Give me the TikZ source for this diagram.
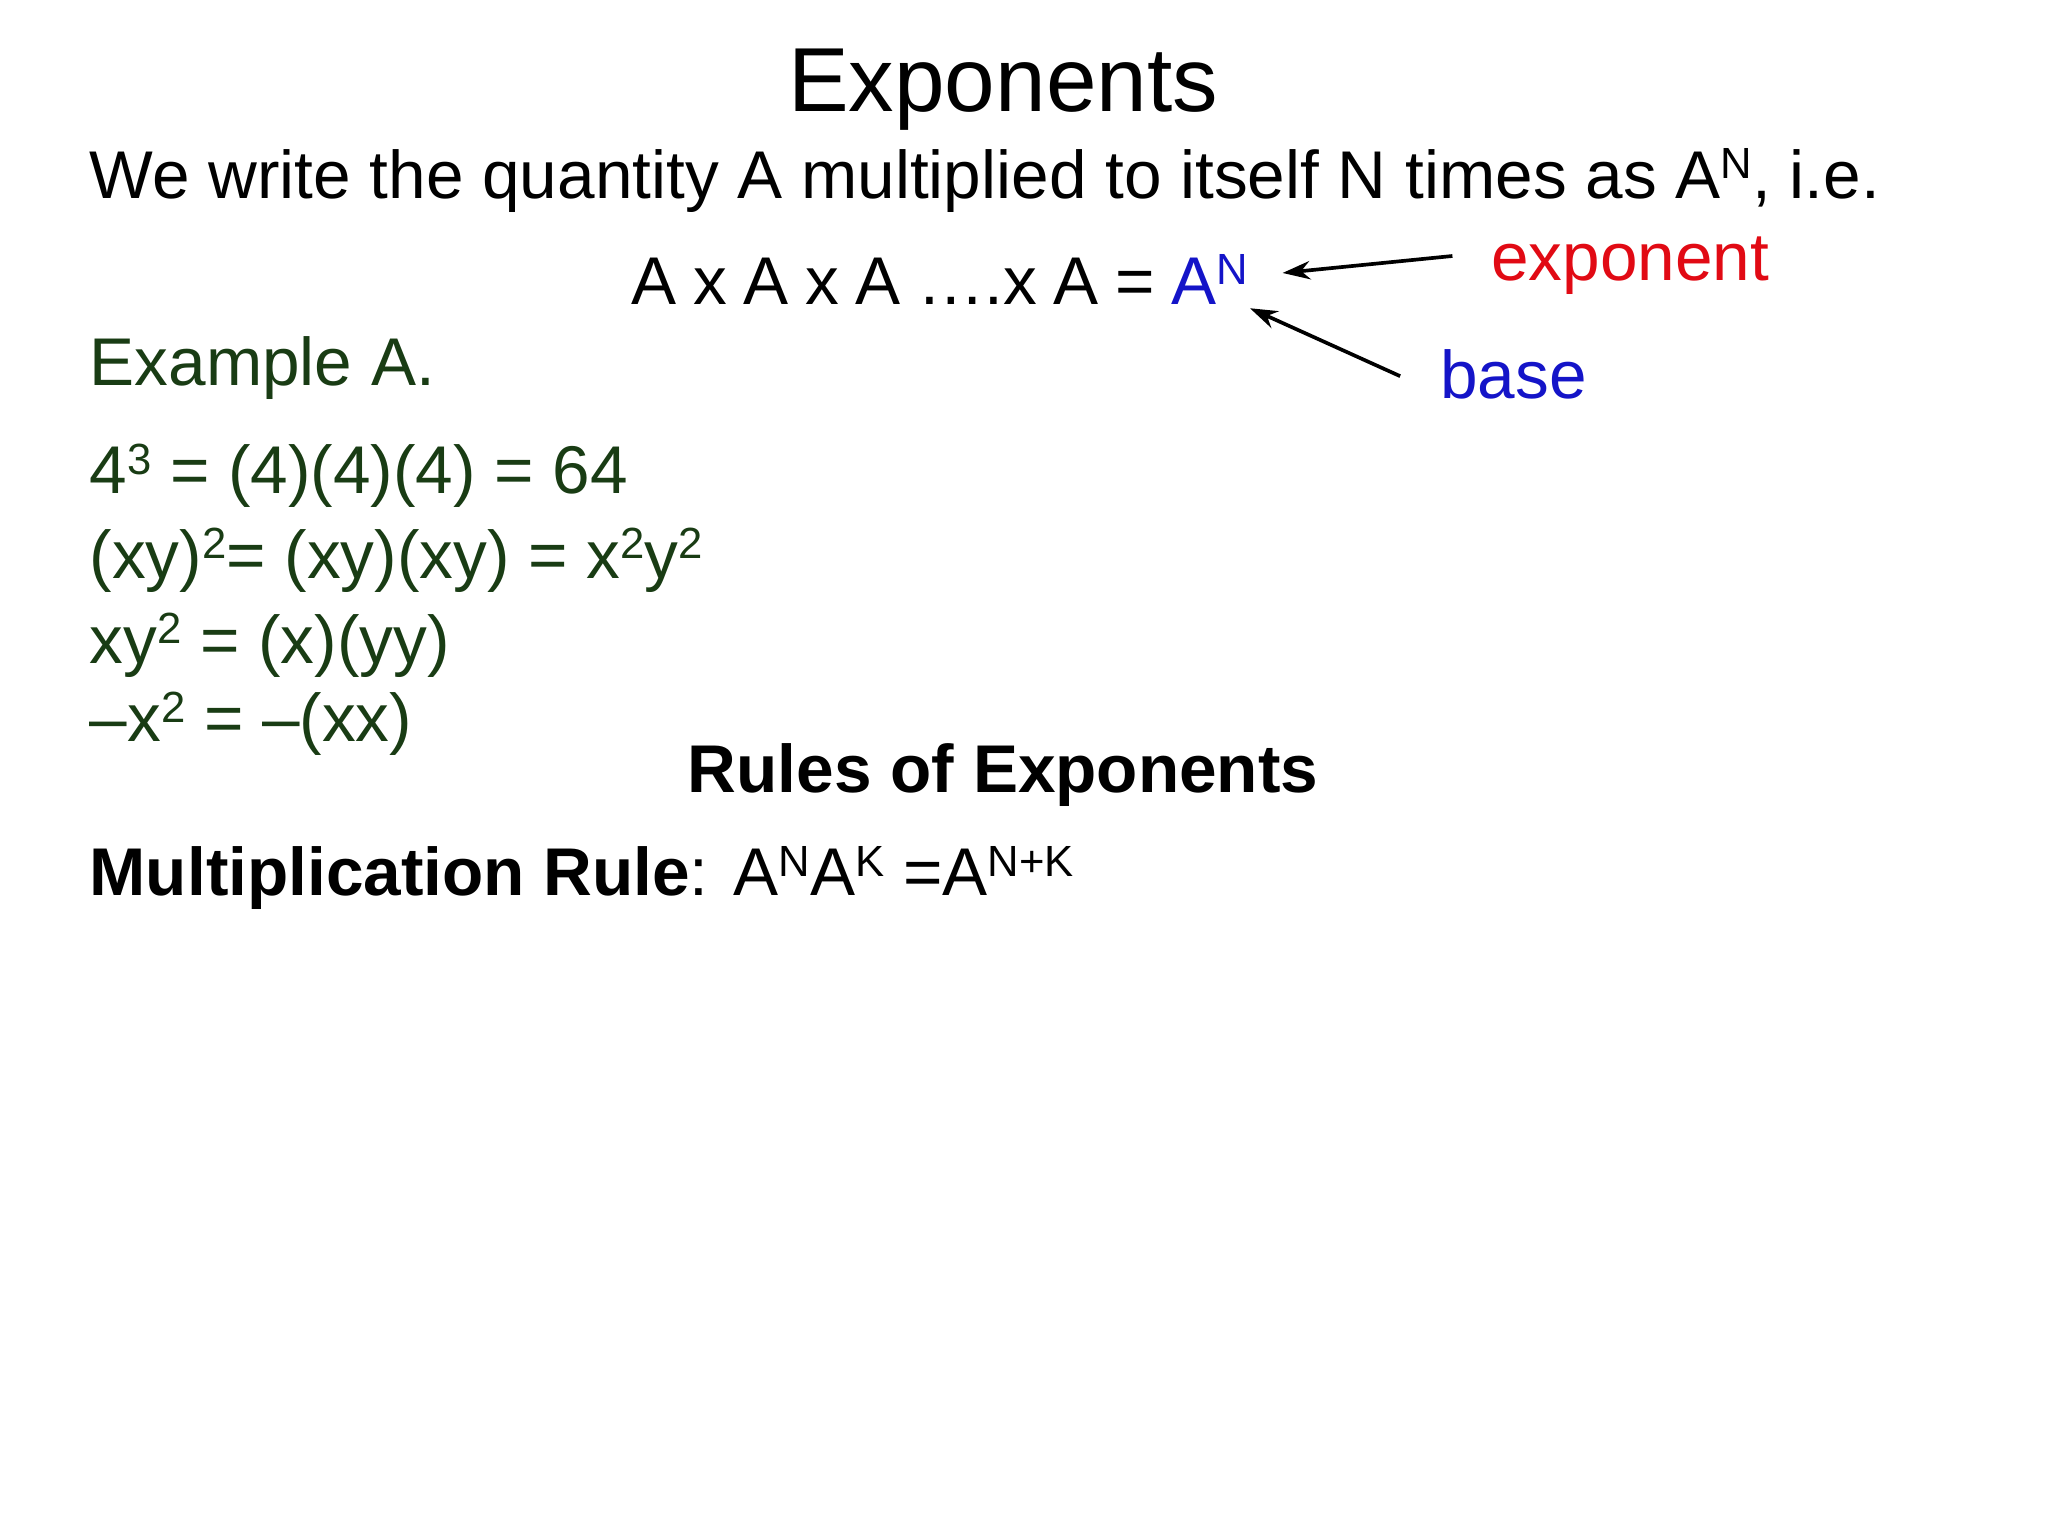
\documentclass[tikz,border=0pt]{standalone}
\usepackage{fontspec}
\setmainfont{Liberation Sans}
\usetikzlibrary{arrows.meta}
\definecolor{dgreen}{RGB}{25,60,20}
\definecolor{ared}{RGB}{225,10,20}
\definecolor{ablue}{RGB}{20,20,200}
\newcommand\sps[1]{\raisebox{0.55ex}{\fontsize{9.5}{11}\selectfont #1}}
\tikzset{txt/.style={inner sep=0pt,anchor=base west,font=\fontsize{14.7}{18}\selectfont},
 lbl/.style={-{Stealth[length=6pt,width=4pt]},line width=0.8pt}}
\begin{document}
\begin{tikzpicture}[x=0.01cm,y=-0.01cm]
\useasboundingbox (0,0) rectangle (1568,1176);
\node[txt,anchor=base,font=\fontsize{19.8}{24}\selectfont] (title) at (768,85) {Exponents};
\node[txt] (l1) at (68,152) {We write the quantity A multiplied to itself N times as A\sps{N}, i.e.};
\node[txt] (eq) at (483,233) {\spaceskip=0.245em A x A x A \dots.x A = \textcolor{ablue}{A\sps{N}}};
\node[txt,text=ared] (exp) at (1141,215) {exponent};
\node[txt,text=ablue] (base) at (1102,305) {base};
\coordinate (e0) at (1112,196); \coordinate (e1) at (982,209);
\coordinate (b0) at (1072,288); \coordinate (b1) at (957,236);
\draw[lbl] (e0) -- (e1);
\draw[lbl] (b0) -- (b1);
\node[txt,text=dgreen] (ex) at (68,295) {Example A.};
\node[txt,text=dgreen] (r1) at (68,378) {4\sps{3} = (4)(4)(4) = 64};
\node[txt,text=dgreen] (r2) at (68,443) {(xy)\sps{2}= (xy)(xy) = x\sps{2}y\sps{2}};
\node[txt,text=dgreen] (r3) at (68,508) {xy\sps{2} = (x)(yy)};
\node[txt,text=dgreen] (r4) at (68,568) {–x\sps{2} = –(xx)};
\node[txt,anchor=base,font=\fontsize{14.7}{18}\selectfont\bfseries] (rules) at (768,607) {Rules of Exponents};
\node[txt] (mr) at (68,686) {\textbf{Multiplication Rule}: A\sps{N}A\sps{K} =A\sps{N+K}};
\end{tikzpicture}
\end{document}
